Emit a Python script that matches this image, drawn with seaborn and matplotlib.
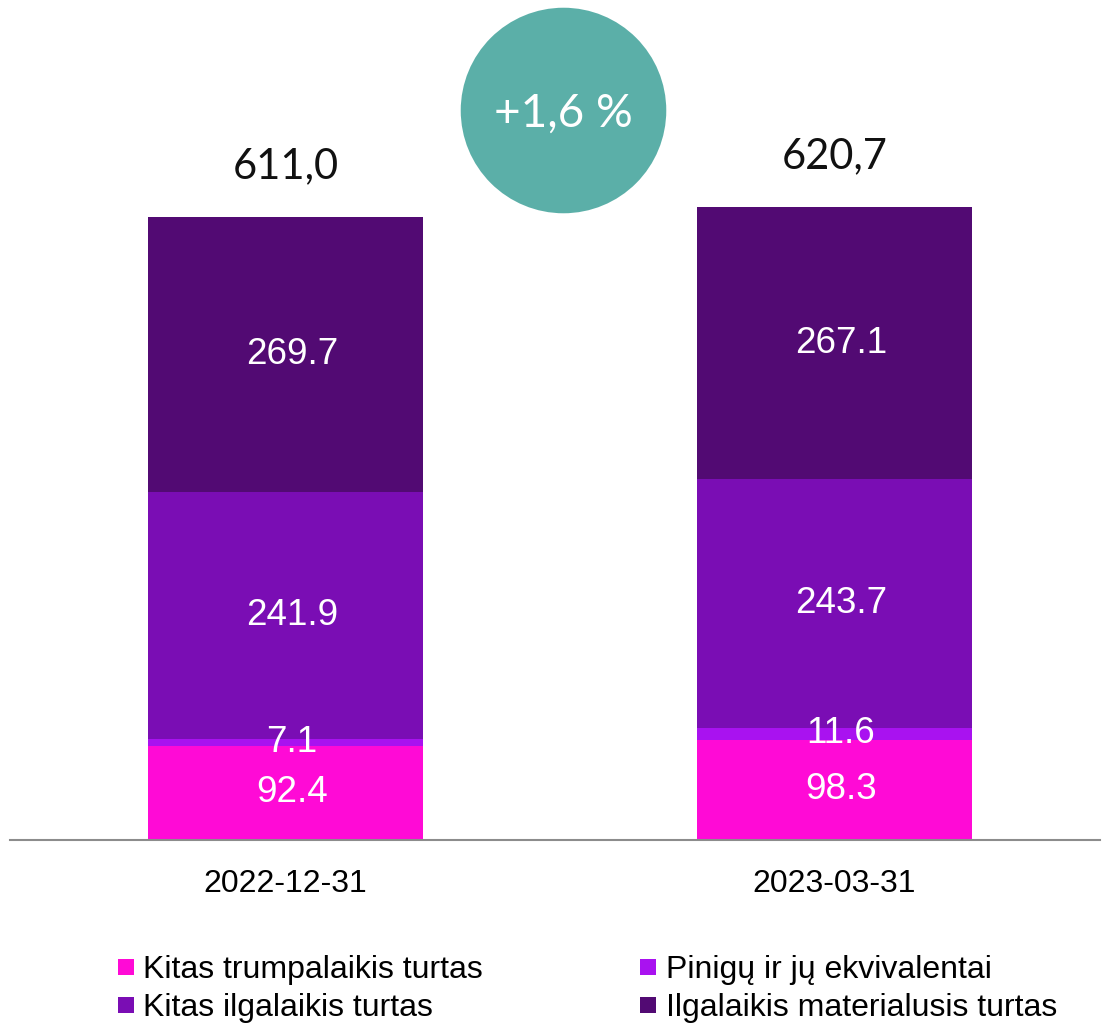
import matplotlib
matplotlib.use("Agg")
import matplotlib.pyplot as plt
from matplotlib.lines import Line2D
import seaborn as sns
import pandas as pd
import numpy as np

# data
dates = ["2022-12-31", "2023-03-31"]
series = ["Kitas trumpalaikis turtas", "Pinigų ir jų ekvivalentai",
          "Kitas ilgalaikis turtas", "Ilgalaikis materialusis turtas"]
kitas_trump = [92.4, 98.3]
pinigai = [7.1, 11.6]
kitas_ilg = [241.9, 243.7]
ilg_mat = [269.7, 267.1]
totals_txt = ["611,0", "620,7"]
change_txt = "+1,6 %"

colors = ["#FF0AD6", "#A912F0", "#7A0DB4", "#520A73"]

sns.set_style("white")
plt.rcParams["font.family"] = ["Liberation Sans", "DejaVu Sans"]
plt.rcParams["text.color"] = "black"

vals = np.array([kitas_trump, pinigai, kitas_ilg, ilg_mat])
cum = vals.cumsum(axis=0)

fig = plt.figure(figsize=(11.02, 10.26), dpi=100)
ax = fig.add_axes([10 / 1102, 186 / 1026, 1090 / 1102, 840 / 1026])

# stacked bars: draw cumulative heights from the top layer down
for i in range(len(series) - 1, -1, -1):
    df = pd.DataFrame({"date": dates, "value": cum[i]})
    sns.barplot(data=df, x="date", y="value", color=colors[i], width=0.501,
                linewidth=0, saturation=1, ax=ax, order=dates)

ax.set_xlim(-0.502, 1.484)
ax.set_ylim(0, 823.8)
ax.set_xlabel("")
ax.set_ylabel("")
ax.set_yticks([])
for s in ["top", "left", "right"]:
    ax.spines[s].set_visible(False)
ax.spines["bottom"].set_color("#8C8C8C")
ax.spines["bottom"].set_linewidth(1.5)
ax.tick_params(axis="x", length=0, pad=21, labelsize=23, colors="black")

# segment labels
for j in range(len(dates)):
    for i in range(len(series)):
        y = cum[i, j] - vals[i, j] / 2
        ax.text(j + 0.012, y, f"{vals[i, j]:.1f}", ha="center", va="center",
                color="white", fontsize=26.5)
    ax.text(j, cum[-1, j] + 50, totals_txt[j], ha="center", va="center",
            fontsize=30, family=["Lato", "DejaVu Sans"], color="#111111")

# change bubble
ax.scatter([0.5055], [716], s=148 ** 2, color="#5BAFA8", linewidth=0,
           clip_on=False, zorder=5)
ax.text(0.5055, 712, change_txt, ha="center", va="center", color="white",
        fontsize=33, family=["Lato", "DejaVu Sans"], fontweight="normal",
        zorder=6)

handles = [Line2D([], [], marker="s", linestyle="none", markersize=12,
                  markerfacecolor=c, markeredgewidth=0) for c in colors]
order = [0, 2, 1, 3]
fig.legend([handles[k] for k in order], [series[k] for k in order],
           loc="upper left", bbox_to_anchor=(116 / 1102, 1 - 955 / 1026),
           ncol=2, frameon=False, fontsize=23, handlelength=0.6,
           handletextpad=0.25, columnspacing=4.87, labelspacing=0.25,
           borderpad=0, borderaxespad=0, labelcolor="black")

fig.savefig("out.png", dpi=100)
